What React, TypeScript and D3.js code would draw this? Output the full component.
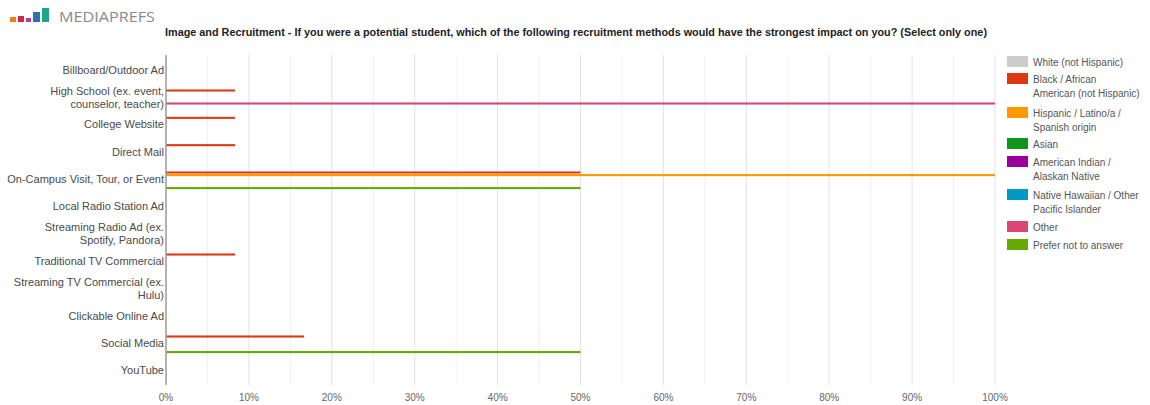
import React from "react";
import * as d3 from "d3";

const categories: string[][] = [
  ["Billboard/Outdoor Ad"],
  ["High School (ex. event,", "counselor, teacher)"],
  ["College Website"],
  ["Direct Mail"],
  ["On-Campus Visit, Tour, or Event"],
  ["Local Radio Station Ad"],
  ["Streaming Radio Ad (ex.", "Spotify, Pandora)"],
  ["Traditional TV Commercial"],
  ["Streaming TV Commercial (ex.", "Hulu)"],
  ["Clickable Online Ad"],
  ["Social Media"],
  ["YouTube"],
];

const seriesNames: string[][] = [
  ["White (not Hispanic)"],
  ["Black / African", "American (not Hispanic)"],
  ["Hispanic / Latino/a /", "Spanish origin"],
  ["Asian"],
  ["American Indian /", "Alaskan Native"],
  ["Native Hawaiian / Other", "Pacific Islander"],
  ["Other"],
  ["Prefer not to answer"],
];

const seriesColors = ["#cccccc", "#dc3912", "#ff9900", "#109618", "#990099", "#0099c6", "#dd4477", "#66aa00"];

// values in %, one array per series, one entry per category
const white = [0, 0, 0, 0, 0, 0, 0, 0, 0, 0, 0, 0];
const black = [0, 8.33, 8.33, 8.33, 50, 0, 0, 8.33, 0, 0, 16.67, 0];
const hispanic = [0, 0, 0, 0, 100, 0, 0, 0, 0, 0, 0, 0];
const asian = [0, 0, 0, 0, 0, 0, 0, 0, 0, 0, 0, 0];
const amIndian = [0, 0, 0, 0, 0, 0, 0, 0, 0, 0, 0, 0];
const hawaiian = [0, 0, 0, 0, 0, 0, 0, 0, 0, 0, 0, 0];
const other = [0, 100, 0, 0, 0, 0, 0, 0, 0, 0, 0, 0];
const preferNot = [0, 0, 0, 0, 50, 0, 0, 0, 0, 0, 50, 0];
const seriesValues = [white, black, hispanic, asian, amIndian, hawaiian, other, preferNot];

const xTicks = [0, 10, 20, 30, 40, 50, 60, 70, 80, 90, 100];
const minorTicks = [5, 15, 25, 35, 45, 55, 65, 75, 85, 95];

const title =
  "Image and Recruitment - If you were a potential student, which of the following recruitment methods would have the strongest impact on you? (Select only one)";

export default function App() {
  const W = 1150, H = 405;
  const left = 166, right = 995, top = 56, bottom = 384;
  const x = d3.scaleLinear().domain([0, 100]).range([left, right]);
  const y = d3.scaleBand<number>().domain(d3.range(categories.length)).range([top, bottom]);
  const inner = d3
    .scaleBand<number>()
    .domain(d3.range(seriesNames.length))
    .range([0, y.bandwidth()])
    .paddingInner(0.2)
    .paddingOuter(1.36);

  const font = "Arial, 'Liberation Sans', sans-serif";
  const legendY = [62, 79, 113, 144, 162, 195, 227, 245];
  const logoBars = [
    { x: 10, w: 6, h: 5, c: "#f47a20" },
    { x: 18, w: 6, h: 6, c: "#d7263d" },
    { x: 26, w: 5, h: 4, c: "#c0388f" },
    { x: 33, w: 7, h: 10, c: "#2f6db5" },
    { x: 42, w: 7, h: 14, c: "#1fa38a" },
  ];

  return (
    <svg width={W} height={H} style={{ position: "absolute", left: 0, top: 0, background: "#fff" }} fontFamily={font}>
      {/* logo */}
      {logoBars.map((b, i) => (
        <rect key={i} x={b.x} y={22 - b.h} width={b.w} height={b.h} fill={b.c} />
      ))}
      <text x={59} y={22} fontSize={15} fill="#8a8a8a" fontFamily="'Open Sans', Arial, sans-serif" textLength={96} lengthAdjust="spacingAndGlyphs">
        MEDIAPREFS
      </text>
      <text x={165} y={36} fontSize={10} fontWeight="bold" fill="#222" textLength={822} lengthAdjust="spacingAndGlyphs">
        {title}
      </text>

      {/* gridlines */}
      {minorTicks.map((t) => (
        <line key={"m" + t} x1={x(t)} x2={x(t)} y1={top - 1} y2={bottom + 1} stroke="#f0f0f0" strokeWidth={1} />
      ))}
      {xTicks.slice(1).map((t) => (
        <line key={"g" + t} x1={x(t)} x2={x(t)} y1={top - 1} y2={bottom + 1} stroke="#e2e2e2" strokeWidth={1} />
      ))}

      {/* bars */}
      {seriesValues.map((vals, s) =>
        vals.map((v, c) =>
          v > 0 ? (
            <rect
              key={s + "-" + c}
              x={x(0)}
              y={(y(c) as number) + (inner(s) as number)}
              width={x(v) - x(0)}
              height={inner.bandwidth()}
              fill={seriesColors[s]}
            />
          ) : null
        )
      )}

      {/* axis line */}
      <line x1={x(0)} x2={x(0)} y1={top - 1} y2={bottom + 1} stroke="#9a9a9a" strokeWidth={1.5} />

      {/* y labels */}
      {categories.map((lines, c) => {
        const cy = (y(c) as number) + y.bandwidth() / 2;
        const lh = 13;
        const y0 = cy - ((lines.length - 1) * lh) / 2 + 4;
        return (
          <text key={c} x={left - 2} textAnchor="end" fontSize={11} fill="#4a4a4a">
            {lines.map((l, i) => (
              <tspan key={i} x={left - 2} y={y0 + i * lh}>
                {l}
              </tspan>
            ))}
          </text>
        );
      })}

      {/* x labels */}
      {xTicks.map((t) => (
        <text key={t} x={x(t)} y={401} textAnchor="middle" fontSize={10} fill="#666">
          {t}%
        </text>
      ))}

      {/* legend */}
      {seriesNames.map((lines, s) => (
        <g key={s}>
          <rect x={1007} y={legendY[s] - 6} width={21} height={11} fill={seriesColors[s]} />
          <text fontSize={10} fill="#555">
            {lines.map((l, i) => (
              <tspan key={i} x={1033} y={legendY[s] + 4 + i * 14}>
                {l}
              </tspan>
            ))}
          </text>
        </g>
      ))}
    </svg>
  );
}
